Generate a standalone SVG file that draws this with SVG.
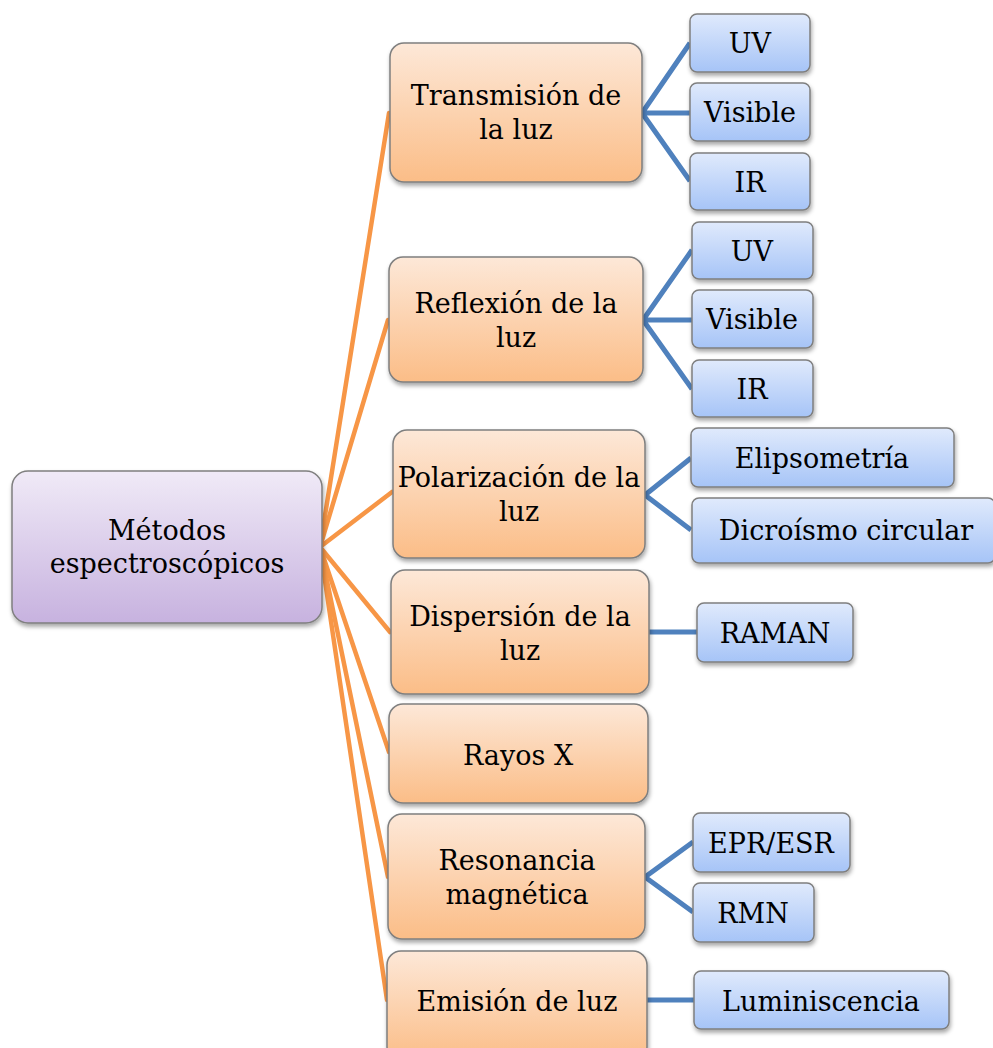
<svg xmlns="http://www.w3.org/2000/svg" width="993" height="1048" viewBox="0 0 993 1048">
<defs>
<linearGradient id="gP" x1="0" y1="0" x2="0" y2="1"><stop offset="0" stop-color="#f0eaf7"/><stop offset="1" stop-color="#c7b2df"/></linearGradient>
<linearGradient id="gO" x1="0" y1="0" x2="0" y2="1"><stop offset="0" stop-color="#fde8d8"/><stop offset="1" stop-color="#fbbd87"/></linearGradient>
<linearGradient id="gB" x1="0" y1="0" x2="0" y2="1"><stop offset="0" stop-color="#e0eafc"/><stop offset="1" stop-color="#a6c4f7"/></linearGradient>
<filter id="sh" x="-10%" y="-10%" width="125%" height="135%"><feDropShadow dx="1" dy="3" stdDeviation="2" flood-color="#000" flood-opacity="0.35"/></filter>
</defs>
<style>
.root{fill:url(#gP);stroke:#7f7f7f;stroke-width:1.5;filter:url(#sh)}
.cat{fill:url(#gO);stroke:#7f7f7f;stroke-width:1.5;filter:url(#sh)}
.leaf{fill:url(#gB);stroke:#7f7f7f;stroke-width:1.5;filter:url(#sh)}
text{font-family:"DejaVu Serif","Liberation Serif",serif;font-size:27px;fill:#000;text-anchor:middle}
.ol{stroke:#f79646;stroke-width:4.5;fill:none;stroke-linecap:round}
.bl{stroke:#4f81bd;stroke-width:5;fill:none}
</style>
<rect width="993" height="1048" fill="#fff"/>
<g id="connectors">
<path class="ol" d="M320 547 L389 113"/>
<path class="ol" d="M320 547 L388 320"/>
<path class="ol" d="M320 547 L392 492"/>
<path class="ol" d="M320 547 L390 632"/>
<path class="ol" d="M320 547 L389 752"/>
<path class="ol" d="M320 547 L388 877"/>
<path class="ol" d="M320 547 L387 1000"/>
<path class="bl" d="M642 113 L690 43 M642 113 L690 113 M642 113 L690 181"/>
<path class="bl" d="M643 320 L692 250 M643 320 L692 320 M643 320 L692 389"/>
<path class="bl" d="M645 495 L691 458 M645 495 L691 530"/>
<path class="bl" d="M649 632 L697 632"/>
<path class="bl" d="M645 877 L693 842 M645 877 L693 912"/>
<path class="bl" d="M647 1000 L694 1000"/>
</g>
<g id="n-root"><rect class="root" x="12" y="471" width="310" height="152" rx="16"/><text x="167" y="540">Métodos</text><text x="167" y="573">espectroscópicos</text></g>
<g id="n-trans"><rect class="cat" x="390" y="43" width="252" height="139" rx="14"/><text x="516" y="105">Transmisión de</text><text x="516" y="139">la luz</text></g>
<g id="n-refl"><rect class="cat" x="389" y="257" width="254" height="125" rx="14"/><text x="516" y="313">Reflexión de la</text><text x="516" y="347">luz</text></g>
<g id="n-pol"><rect class="cat" x="393" y="430" width="252" height="128" rx="14"/><text x="519" y="487">Polarización de la</text><text x="519" y="521">luz</text></g>
<g id="n-disp"><rect class="cat" x="391" y="570" width="258" height="124" rx="14"/><text x="520" y="626">Dispersión de la</text><text x="520" y="660">luz</text></g>
<g id="n-rayos"><rect class="cat" x="389" y="704" width="259" height="99" rx="14"/><text x="518" y="765">Rayos X</text></g>
<g id="n-reso"><rect class="cat" x="388" y="814" width="257" height="125" rx="14"/><text x="517" y="870">Resonancia</text><text x="517" y="904">magnética</text></g>
<g id="n-emis"><rect class="cat" x="387" y="951" width="260" height="110" rx="14"/><text x="517" y="1011">Emisión de luz</text></g>
<g id="n-uv1"><rect class="leaf" x="690" y="14" width="120" height="58" rx="7"/><text x="750" y="53">UV</text></g>
<g id="n-vis1"><rect class="leaf" x="690" y="83" width="120" height="58" rx="7"/><text x="750" y="122">Visible</text></g>
<g id="n-ir1"><rect class="leaf" x="690" y="153" width="120" height="57" rx="7"/><text x="750" y="192">IR</text></g>
<g id="n-uv2"><rect class="leaf" x="692" y="222" width="121" height="57" rx="7"/><text x="752" y="261">UV</text></g>
<g id="n-vis2"><rect class="leaf" x="692" y="290" width="121" height="58" rx="7"/><text x="752" y="329">Visible</text></g>
<g id="n-ir2"><rect class="leaf" x="692" y="360" width="121" height="57" rx="7"/><text x="752" y="399">IR</text></g>
<g id="n-elip"><rect class="leaf" x="691" y="428" width="263" height="59" rx="7"/><text x="822" y="468">Elipsometría</text></g>
<g id="n-dicro"><rect class="leaf" x="692" y="498" width="303" height="65" rx="7"/><text x="846" y="540">Dicroísmo circular</text></g>
<g id="n-raman"><rect class="leaf" x="697" y="603" width="156" height="59" rx="7"/><text x="775" y="643">RAMAN</text></g>
<g id="n-epr"><rect class="leaf" x="693" y="813" width="157" height="59" rx="7"/><text x="771" y="853">EPR/ESR</text></g>
<g id="n-rmn"><rect class="leaf" x="693" y="883" width="121" height="59" rx="7"/><text x="753" y="923">RMN</text></g>
<g id="n-lumi"><rect class="leaf" x="694" y="971" width="255" height="58" rx="7"/><text x="821" y="1011">Luminiscencia</text></g>
</svg>
